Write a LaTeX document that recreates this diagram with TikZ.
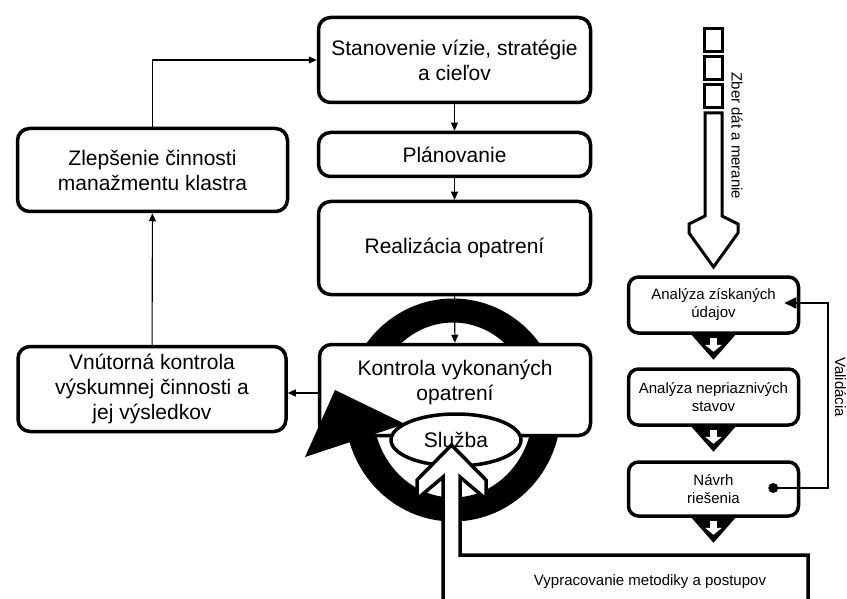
\documentclass[tikz,border=0pt]{standalone}
\usepackage{fontspec}
\setmainfont{Liberation Sans}
\usepackage{tikz}
\usetikzlibrary{arrows.meta,calc,shapes.geometric}
\newcommand{\bigfont}{\fontsize{21}{25}\selectfont}
\newcommand{\smallfont}{\fontsize{15}{18}\selectfont}

\begin{document}
\begin{tikzpicture}
    [
      x = 1pt, y = -1pt,
      bigbox/.style = {draw, fill=white, line width=3.5pt, rounded corners=12pt, align=center, font=\bigfont},
      smallbox/.style = {draw, fill=white, line width=3.5pt, rounded corners=10pt, align=center, font=\smallfont,
                         minimum width=170pt, minimum height=56pt},
      thinarrow/.style = {line width=1.1pt, -{Triangle[length=8pt,width=7pt]}},
      hollow/.style = {draw, fill=white, line width=3.5pt, line join=miter},
    ]
    \useasboundingbox (0,0) rectangle (847,599);

    \fill[even odd rule] (453,410) ellipse [x radius=108pt, y radius=111.5pt]
                         (453,410) ellipse [x radius=80pt, y radius=87.5pt];

    \node[bigbox, minimum width=272pt, minimum height=85pt] (stanov) at (454.5,60) {Stanovenie vízie, stratégie\\a cieľov};
    \node[bigbox, minimum width=272pt, minimum height=44pt] (plan) at (454.5,154.5) {Plánovanie};
    \node[bigbox, minimum width=272pt, minimum height=93pt] (real) at (454.5,248) {Realizácia opatrení};
    \node[bigbox, minimum width=271pt, minimum height=91pt] (kontr) at (455,390) {};
    \node[font=\bigfont, align=center] (kontrtxt) at (455,382) {Kontrola vykonaných\\opatrení};

    \fill (335,390) -- (405,424) -- (305,457) -- cycle;

    \node[ellipse, draw, fill=white, line width=3.5pt, minimum width=130pt, minimum height=52pt,
          inner sep=0pt, font=\bigfont] (sluzba) at (456,440) {Služba};

    \path[hollow] (443,603) -- (443,477) -- (417,499) -- (417,480) -- (451.5,445) -- (486,480)
                  -- (486,499) -- (460,477) -- (460,555) -- (808,555) -- (808,603);
    \node[font=\smallfont] (vyprac) at (650,582) {Vypracovanie metodiky a postupov};

    \node[bigbox, minimum width=270pt, minimum height=83pt] (zlep) at (152.5,170) {Zlepšenie činnosti\\manažmentu klastra};
    \node[bigbox, minimum width=268pt, minimum height=85pt] (vnut) at (152,389) {Vnútorná kontrola\\výskumnej činnosti a\\jej výsledkov};

    \draw[thinarrow] (stanov) -- (plan);
    \draw[thinarrow] (plan) -- (real);
    \draw[thinarrow] (real) -- (kontr);
    \draw[thinarrow] (kontr.west |- 0,393) -- (vnut.east |- 0,393);
    \draw[thinarrow] (vnut) -- (zlep);
    \draw[thinarrow] (zlep.north) |- (stanov.west);

    \foreach \y in {29,57,85}
      \draw[line width=3pt, fill=white] (704,\y) rectangle +(18,23);
    \path[hollow, line width=3pt] (705,113) -- (705,216) -- (689,224) -- (689,233) -- (713.5,267)
                  -- (738,233) -- (738,224) -- (722,216) -- (722,113) -- cycle;
    \node[font=\smallfont, rotate=-90] (zber) at (737,136) {Zber dát a meranie};

    \node[smallbox] (anal1) at (713.5,305) {Analýza získaných\\údajov};
    \node[smallbox] (anal2) at (713.5,397) {Analýza nepriaznivých\\stavov};
    \node[smallbox, minimum height=54pt] (navrh) at (713.5,489) {Návrh\\riešenia};

    \foreach \b in {anal1,anal2,navrh} {
      \fill ($(\b.south)+(-22,0)$) -- ($(\b.south)+(22,0)$) -- ($(\b.south)+(0,25)$) -- cycle;
      \fill[white] ($(\b.south)+(-3.5,3)$) rectangle ($(\b.south)+(3.5,10)$);
      \fill[white] ($(\b.south)+(-8.5,10)$) -- ($(\b.south)+(8.5,10)$) -- ($(\b.south)+(0,17)$) -- cycle;
    }

    \coordinate (valstart) at ($(navrh.east)+(-27,-1)$);
    \coordinate (valend) at ($(anal1.east)+(-16,-2)$);
    \fill (valstart) circle (5pt);
    \draw[line width=2pt, -{Triangle[length=12pt,width=11pt]}] (valstart) -- ++(55,0) |- (valend);
    \node[font=\smallfont, rotate=-90] (valid) at (840.5,387) {Validácia};
\end{tikzpicture}
\end{document}
